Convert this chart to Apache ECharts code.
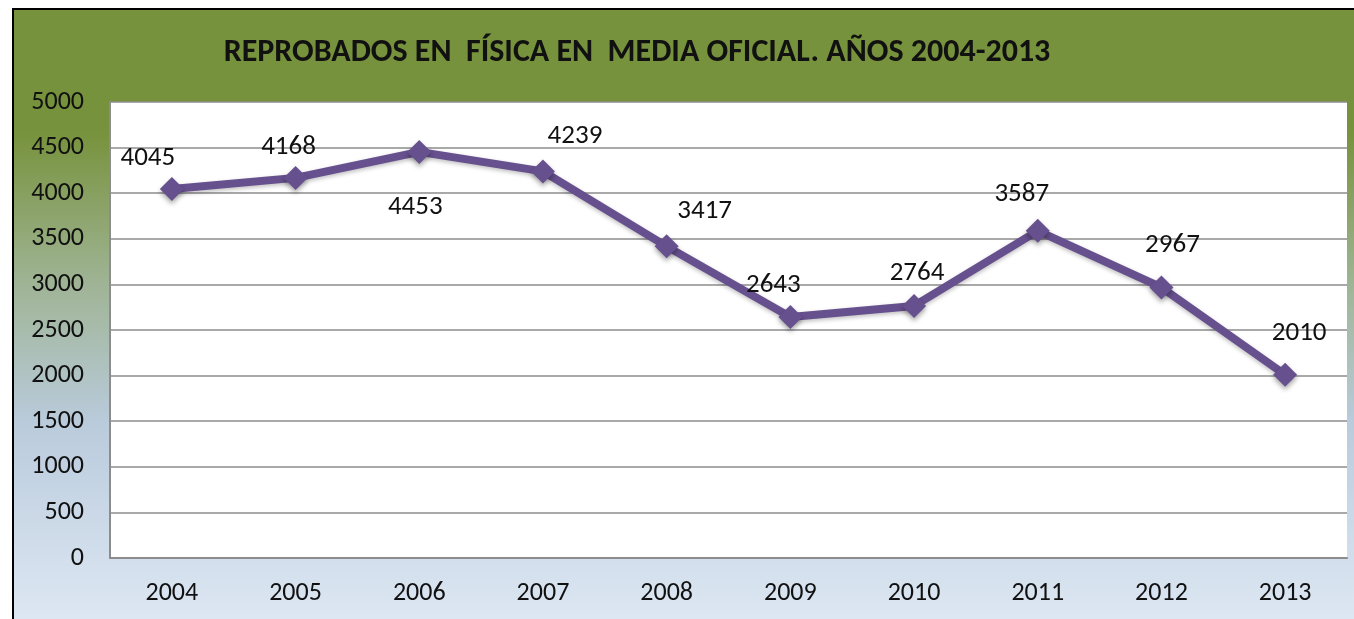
<!DOCTYPE html>
<html>
<head>
<meta charset="utf-8">
<script src="https://cdn.jsdelivr.net/npm/echarts@6/dist/echarts.min.js"></script>
<style>
  html, body { margin: 0; padding: 0; background: #fff; }
  #chart {
    position: absolute; left: 12px; top: 8px;
    width: 1340px; height: 609px;
    border-left: 2px solid #000; border-top: 2px solid #000;
  }
</style>
</head>
<body>
<div id="chart"></div>
<script>
var years = ['2004', '2005', '2006', '2007', '2008', '2009', '2010', '2011', '2012', '2013'];
var reprobados = [4045, 4168, 4453, 4239, 3417, 2643, 2764, 3587, 2967, 2010];
var yTicks = [0, 500, 1000, 1500, 2000, 2500, 3000, 3500, 4000, 4500, 5000];

// where each value label sits relative to its marker (as in the original)
var labelShift = [[-24, -31], [-7, -31], [-4, 55], [32, -35], [38, -35],
                  [-17, -32], [3, -33], [-16, -37], [11, -42], [14, -41]];

var font = 'Carlito, Lato, "Liberation Sans", sans-serif';
var chart = echarts.init(document.getElementById('chart'));

chart.setOption({
  backgroundColor: new echarts.graphic.LinearGradient(0, 0, 0, 1, [
    { offset: 0, color: '#77923c' },
    { offset: 0.2, color: '#77923c' },
    { offset: 0.45, color: '#9fb495' },
    { offset: 0.68, color: '#bacbdc' },
    { offset: 1, color: '#dde7f3' }
  ]),
  animation: false,
  title: {
    text: 'REPROBADOS EN  FÍSICA EN  MEDIA OFICIAL. AÑOS 2004-2013',
    left: 618, textAlign: 'center', top: 22,
    textStyle: { fontFamily: font, fontSize: 32, fontWeight: 'bold', color: '#111' }
  },
  grid: { left: 96, right: 7, top: 92, bottom: 61, containLabel: false,
          show: true, backgroundColor: '#fff', borderWidth: 0 },
  xAxis: {
    type: 'category',
    data: years,
    boundaryGap: true,
    axisLine: { lineStyle: { color: '#8c8c8c', width: 2 } },
    axisTick: { show: false },
    axisLabel: { fontFamily: font, fontSize: 26, color: '#111', margin: 22 }
  },
  yAxis: {
    type: 'value',
    min: yTicks[0], max: yTicks[yTicks.length - 1], interval: 500,
    axisLine: { show: true, lineStyle: { color: '#8c8c8c', width: 2 } },
    axisTick: { show: false },
    splitLine: { lineStyle: { color: '#8c8c8c', width: 1.5 } },
    axisLabel: { fontFamily: font, fontSize: 26, color: '#111', margin: 26,
                 formatter: function (v) { return String(v); } }
  },
  series: [{
    type: 'line',
    data: reprobados.map(function (v, i) {
      return { value: v, label: { offset: labelShift[i] } };
    }),
    symbol: 'diamond',
    symbolSize: 24,
    lineStyle: { color: '#67508e', width: 8, shadowColor: 'rgba(0,0,0,0.25)', shadowBlur: 4, shadowOffsetY: 2 },
    itemStyle: { color: '#67508e', shadowColor: 'rgba(0,0,0,0.35)', shadowBlur: 5, shadowOffsetY: 3 },
    label: {
      show: true, position: 'inside',
      fontFamily: font, fontSize: 27, color: '#111'
    }
  }]
});
</script>
</body>
</html>
